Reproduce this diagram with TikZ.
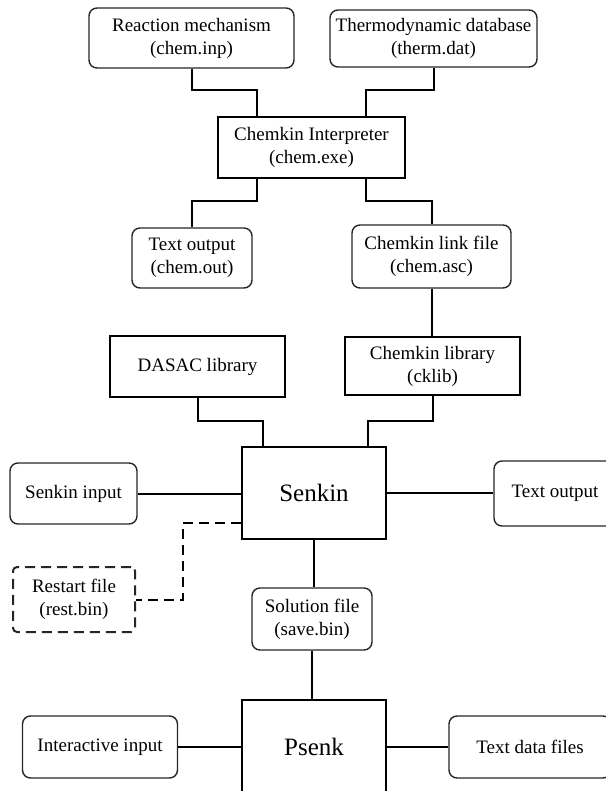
\documentclass[tikz,border=0pt]{standalone}
\usepackage{fontspec}
\setmainfont{Liberation Serif}
\usetikzlibrary{positioning,calc}

\begin{document}
\begin{tikzpicture}[x=0.5pt, y=-0.5pt,
    filebox/.style={draw=black!85, line width=0.7pt, rounded corners=4pt, align=center, inner sep=0pt, font=\fontsize{9.5}{11.5}\selectfont},
    progbox/.style={draw, line width=1pt, align=center, inner sep=0pt, font=\fontsize{9.5}{11.5}\selectfont},
    link/.style={line width=1pt}]
    \useasboundingbox (0,0) rectangle (605,791);

    \node[filebox, minimum width=102.5pt, minimum height=30pt] (react) at (191.5,38) {Reaction mechanism\\(chem.inp)};
    \node[filebox, minimum width=103.5pt, minimum height=28.5pt] (thermo) at (433.5,38.5) {Thermodynamic database\\(therm.dat)};
    \node[progbox, minimum width=93.5pt, minimum height=30.5pt] (interp) at (311.5,147.5) {Chemkin Interpreter\\(chem.exe)};
    \node[filebox, minimum width=60pt, minimum height=30pt] (chemout) at (192,258) {Text output\\(chem.out)};
    \node[filebox, minimum width=79.5pt, minimum height=31.5pt] (linkfile) at (431.5,256.5) {Chemkin link file\\(chem.asc)};
    \node[progbox, minimum width=87.5pt, minimum height=30.5pt] (dasac) at (197.5,366.5) {DASAC library};
    \node[progbox, minimum width=87.5pt, minimum height=29pt] (cklib) at (432.5,366) {Chemkin library\\(cklib)};
    \node[progbox, minimum width=72pt, minimum height=46pt, font=\fontsize{12.5}{14}\selectfont] (senkin) at (314,493) {Senkin};
    \node[filebox, minimum width=63.5pt, minimum height=30.5pt] (skinput) at (73.5,493.5) {Senkin input};
    \node[filebox, minimum width=61pt, minimum height=32.5pt] (textout) at (555,493.5) {Text output};
    \node[filebox, dashed, dash pattern=on 5pt off 3pt, line width=1pt, rounded corners=2pt, minimum width=61pt, minimum height=32.5pt] (restart) at (74,599.5) {Restart file\\(rest.bin)};
    \node[filebox, minimum width=60pt, minimum height=31pt] (solution) at (312,619) {Solution file\\(save.bin)};
    \node[progbox, minimum width=72pt, minimum height=47pt, font=\fontsize{12.5}{14}\selectfont] (psenk) at (314,747) {Psenk};
    \node[filebox, minimum width=77.5pt, minimum height=31pt] (interactive) at (100,747) {Interactive input};
    \node[filebox, minimum width=81pt, minimum height=31pt] (textdata) at (530,747) {Text data files};

    \draw[link] (react.south) -- ++(0,21) -| ($(interp.north)+(-55,0)$);
    \draw[link] (thermo.south) -- ++(0,22) -| ($(interp.north)+(54,0)$);
    \draw[link] ($(interp.south)+(-55,0)$) -- ++(0,22) -| (chemout.north);
    \draw[link] ($(interp.south)+(54,0)$) -- ++(0,22) -| (linkfile.north);
    \draw[link] (linkfile.south) -- (linkfile.south |- cklib.north);
    \draw[link] (dasac.south) -- ++(0,23) -| ($(senkin.north)+(-51,0)$);
    \draw[link] (cklib.south) -- ++(0,25) -| ($(senkin.north)+(54,0)$);
    \draw[link] (skinput.east) -- (skinput.east -| senkin.west);
    \draw[link] (senkin.east) -- (senkin.east -| textout.west);
    \draw[link, dashed, dash pattern=on 5pt off 3pt] ($(senkin.west)+(0,30)$) -| ($(restart.east)+(47,0)$) -- (restart.east);
    \draw[link] (senkin.south) -- (senkin.south |- solution.north);
    \draw[link] (solution.south) -- (solution.south |- psenk.north);
    \draw[link] (interactive.east) -- (interactive.east -| psenk.west);
    \draw[link] (psenk.east) -- (psenk.east -| textdata.west);
\end{tikzpicture}
\end{document}
